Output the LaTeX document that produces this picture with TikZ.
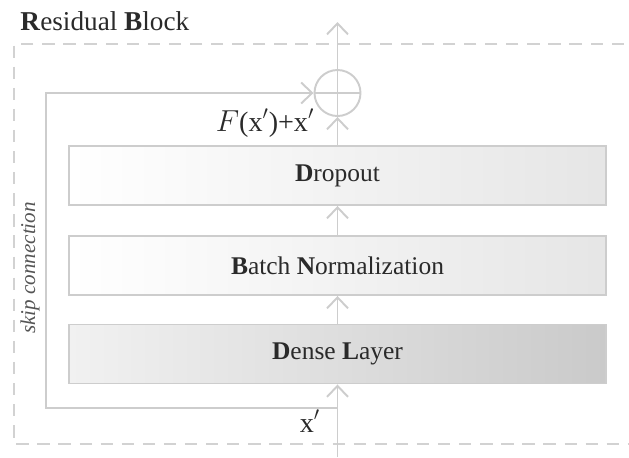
\documentclass[tikz,border=0pt]{standalone}
\usepackage{fontspec}
\setmainfont{Liberation Serif}
\usetikzlibrary{arrows.meta,positioning,calc}
\definecolor{Wire}{HTML}{CDCDCD}
\definecolor{Frame}{HTML}{D2D2D2}
\definecolor{Ink}{HTML}{2A2A2A}
\definecolor{ShadeLo}{HTML}{F1F1F1}
\definecolor{ShadeHi}{HTML}{CACACA}

\tikzset{
  layer/.style={draw=Wire,line width=1.1pt,minimum width=10.74cm,minimum height=1.18cm,
    text=Ink,font=\fontsize{14.5}{17}\selectfont},
  flow/.style={draw=Wire,line width=1.1pt,-{Straight Barb[length=2.2mm,width=4.2mm]}},
}

\begin{document}
\begin{tikzpicture}
  \useasboundingbox (0,0) rectangle (12.58,-9.14);
  % block frame and title
  \draw[Frame,line width=1pt,dash pattern=on 7pt off 5pt] (12.9,-0.88) -- (0.28,-0.88) -- (0.28,-8.88) -- (12.9,-8.88);
  \node[anchor=base west,text=Ink,font=\fontsize{15.5}{18}\selectfont,inner sep=0pt] (title) at (0.4,-0.6) {\textbf{R}esidual \textbf{B}lock};

  % layers
  \node[layer,left color=white,right color=ShadeLo!90!gray] (drop) at (6.75,-3.51) {\textbf{D}ropout};
  \node[layer,left color=white,right color=ShadeLo!90!gray] (bn) at (6.75,-5.31) {\textbf{B}atch \textbf{N}ormalization};
  \node[layer,left color=ShadeLo,right color=ShadeHi] (dense) at (6.75,-7.08) {\textbf{D}ense \textbf{L}ayer};

  % adder
  \node[circle,draw=Wire,line width=1.1pt,minimum size=0.92cm,inner sep=0pt] (add) at (6.75,-1.86) {};
  \draw[Wire,line width=1.1pt] (add.north) -- (add.south) (add.west) -- (add.east);

  \coordinate (in) at (6.75,-9.14);
  \coordinate (out) at (6.75,-0.44);
  \coordinate (split) at (6.75,-8.16);
  \coordinate (corner) at (0.92,-8.16);

  % main path
  \draw[flow] (in) -- (dense.south);
  \draw[flow] (dense.north) -- (bn.south);
  \draw[flow] (bn.north) -- (drop.south);
  \draw[flow] (drop.north) -- (add.south);
  \draw[flow] (add.north) -- (out);

  % skip connection
  \draw[flow] (split) -- (corner) |- (add.west);
  \node[rotate=90,text=Ink!80,font=\fontsize{12}{14}\selectfont\itshape] (skip) at (0.6,-5.36) {skip connection};

  % labels
  \node[anchor=base,text=Ink,font=\fontsize{16}{18}\selectfont] (xin) at (6.2,-8.64) {x$'$};
  \node[anchor=base,text=Ink,font=\fontsize{16}{18}\selectfont] (sum) at (5.3,-2.62) {$F$(x$'$)+x$'$};
\end{tikzpicture}
\end{document}
